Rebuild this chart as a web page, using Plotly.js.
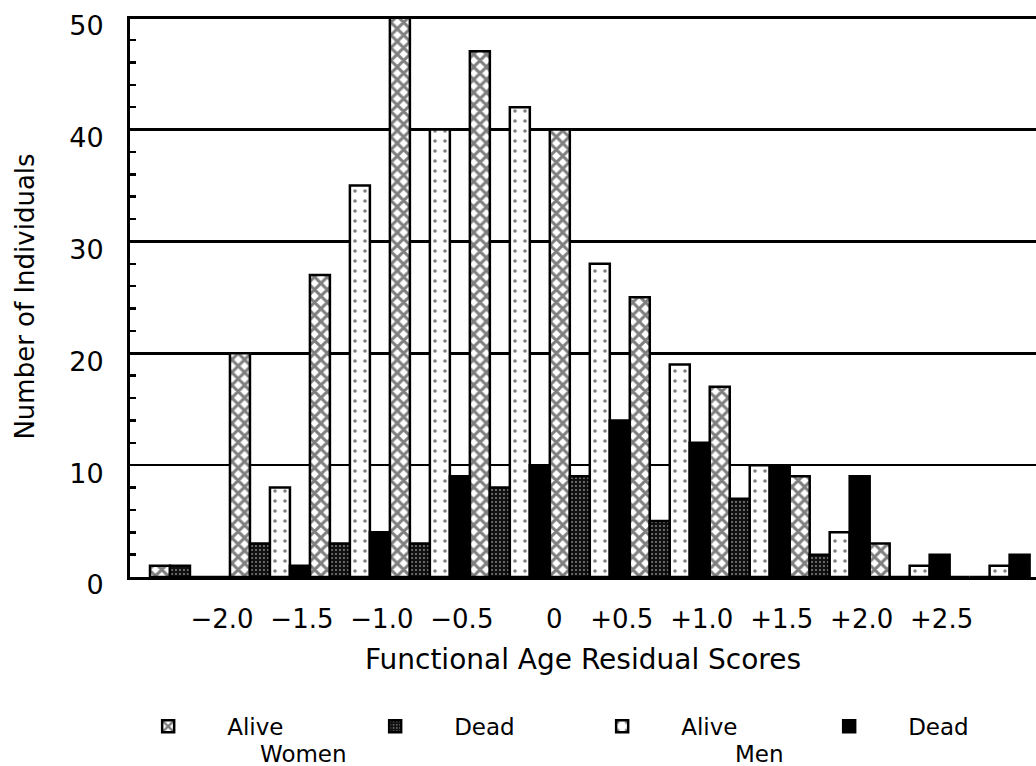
<!DOCTYPE html>
<html>
<head>
<meta charset="utf-8">
<script src="https://cdn.plot.ly/plotly-3.0.1.min.js"></script>
<style>
  html, body { margin: 0; padding: 0; background: #fff; }
  #chart { width: 1036px; height: 766px; }
</style>
</head>
<body>
<div id="chart"></div>
<script>
// Bin centres of the functional age residual score classes (bin width 0.5)
const binCenters = [-2.25, -1.75, -1.25, -0.75, -0.25, 0.25, 0.75, 1.25, 1.75, 2.25, 2.75];
// Tick positions (bin boundaries) and their labels
const tickValues = [-2.0, -1.5, -1.0, -0.5, 0, 0.5, 1.0, 1.5, 2.0, 2.5];
const tickLabels = ["\u22122.0", "\u22121.5", "\u22121.0", "\u22120.5", "\u00a0\u00a0\u00a00", "+0.5", "+1.0", "+1.5", "+2.0", "+2.5"];

const womenAlive = [1, 20, 27, 50, 47, 40, 25, 17, 9, 3, 0];
const womenDead  = [1, 3, 3, 3, 8, 9, 5, 7, 2, 0, 0];
const menAlive   = [0, 8, 35, 40, 42, 28, 19, 10, 4, 1, 1];
const menDead    = [0, 1, 4, 9, 10, 14, 12, 10, 9, 2, 2];

const seriesNames = ["Alive", "Dead", "Alive", "Dead"];
const FONT = "DejaVu Sans, Liberation Sans, Arial, sans-serif";
const outline = { color: "#000", width: 2.5 };

const traces = [
  {
    type: "bar", x: binCenters, y: womenAlive, name: seriesNames[0], legendgroup: "wa",
    marker: { color: "#fff", line: outline,
      pattern: { shape: "x", bgcolor: "#fff", fgcolor: "#000", size: 9, solidity: 0.55, fillmode: "overlay" } }
  },
  {
    type: "bar", x: binCenters, y: womenDead, name: seriesNames[1], legendgroup: "wd",
    marker: { color: "#000", line: outline,
      pattern: { shape: ".", bgcolor: "#111", fgcolor: "#fff", size: 4, solidity: 0.18, fillmode: "overlay" } }
  },
  {
    type: "bar", x: binCenters, y: menAlive, name: seriesNames[2], legendgroup: "ma",
    marker: { color: "#fff", line: outline,
      pattern: { shape: ".", bgcolor: "#fff", fgcolor: "#000", size: 10, solidity: 0.1, fillmode: "overlay" } }
  },
  {
    type: "bar", x: binCenters, y: menDead, name: seriesNames[3], legendgroup: "md",
    marker: { color: "#000", line: outline }
  }
];

const layout = {
  width: 1036, height: 766,
  margin: { l: 130, r: 0, t: 16, b: 189 },
  paper_bgcolor: "#fff", plot_bgcolor: "#fff",
  barmode: "group", bargap: 0, bargroupgap: 0,
  font: { family: FONT, color: "#000", size: 24 },
  showlegend: true,
  legend: {
    orientation: "h", x: -0.023, xanchor: "left", y: -0.228, yanchor: "top",
    entrywidth: 104, entrywidthmode: "pixels", itemwidth: 108,
    font: { family: FONT, size: 23, color: "#000" }, traceorder: "normal",
    bgcolor: "rgba(0,0,0,0)"
  },
  xaxis: {
    range: [-2.625, 3.04], tickmode: "array", tickvals: tickValues, ticktext: tickLabels,
    showgrid: false, zeroline: false, showline: true, linecolor: "#000", linewidth: 3,
    ticks: "", tickfont: { family: FONT, size: 26, color: "#000" },
    ticklabelstandoff: 17, ticklabelshift: -8,
    title: { text: "Functional Age Residual Scores", font: { family: FONT, size: 28, color: "#000" }, standoff: 17 }
  },
  yaxis: {
    range: [0, 50.15], tickmode: "linear", tick0: 0, dtick: 10,
    showgrid: true, gridcolor: "#000", gridwidth: 2.5, zeroline: false,
    showline: true, linecolor: "#000", linewidth: 3, ticks: "",
    minor: { dtick: 2, tick0: 0, ticks: "inside", ticklen: 6, tickwidth: 2.5, tickcolor: "#000", showgrid: false },
    tickfont: { family: FONT, size: 27, color: "#000" },
    ticklabelstandoff: 18, ticklabelshift: 8,
    title: { text: "Number of Individuals", font: { family: FONT, size: 26, color: "#000" }, standoff: 28 }
  },
  annotations: [
    { text: "Women", xref: "paper", yref: "paper", x: 0.192, y: -0.316, xanchor: "center", yanchor: "middle",
      showarrow: false, font: { family: FONT, size: 23, color: "#000" } },
    { text: "Men", xref: "paper", yref: "paper", x: 0.695, y: -0.316, xanchor: "center", yanchor: "middle",
      showarrow: false, font: { family: FONT, size: 23, color: "#000" } }
  ]
};

Plotly.newPlot("chart", traces, layout, { displayModeBar: false, staticPlot: true });
</script>
</body>
</html>
